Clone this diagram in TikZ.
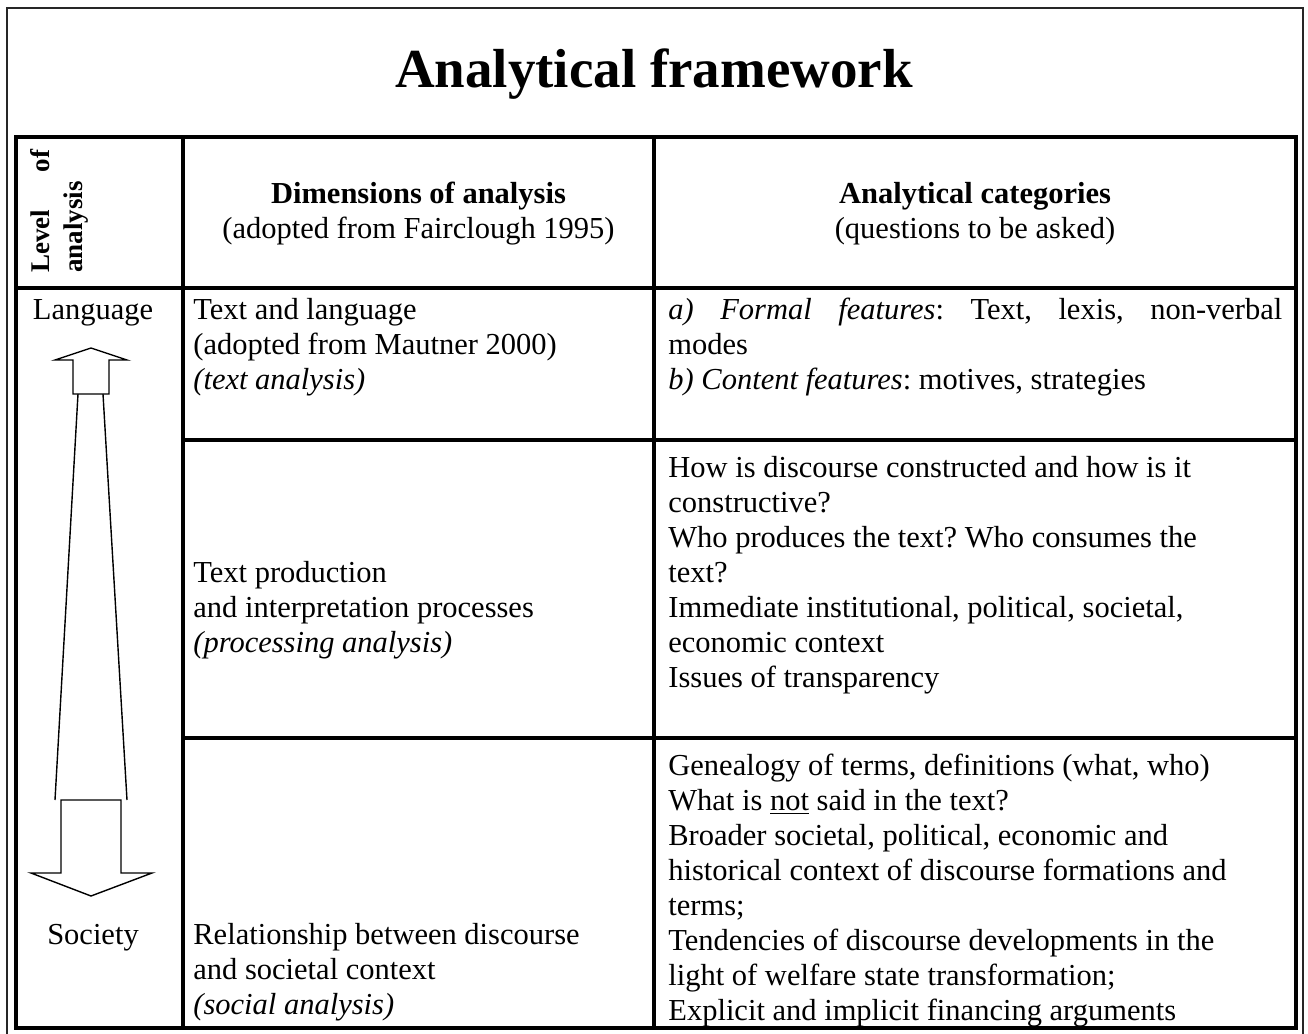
\documentclass[tikz,border=0pt]{standalone}
\usepackage{fontspec}
\setmainfont{Liberation Serif}
\newcommand\bodysize{\fontsize{15.25pt}{17.5pt}\selectfont\frenchspacing}
\begin{document}
\begin{tikzpicture}[x=0.5pt,y=-0.5pt,
  cell/.style={inner sep=0pt, anchor=north west, align=left, font=\bodysize},
  ctr/.style={inner sep=0pt, align=center, font=\bodysize},
  single/.style={inner sep=0pt, anchor=base, font=\bodysize},
  grid/.style={line width=1.7pt},
  frame/.style={line width=0.9pt, draw=black!85},
  arr/.style={line width=0.7pt, line join=miter}
]
\useasboundingbox (0,0) rectangle (1308,1034);
% outer frame (open at the bottom)
\draw[frame] (7,1034) -- (7,8) -- (1303,8) -- (1303,1034);
% title
\node[inner sep=0pt, anchor=base, font=\bfseries\fontsize{27.5pt}{32pt}\selectfont] (title) at (654,87) {Analytical framework};
% table grid
\draw[grid] (16,137) rectangle (1296,1028);
\draw[grid] (183,137) -- (183,1028);
\draw[grid] (654,137) -- (654,1028);
\draw[grid] (16,288) -- (1296,288);
\draw[grid] (183,440) -- (1296,440);
\draw[grid] (183,738) -- (1296,738);
% header row
\node[inner sep=0pt, rotate=90, anchor=north west, align=left, font=\bfseries\fontsize{13.5pt}{16.5pt}\selectfont] (levhead) at (26,273) {\strut\makebox[61.5pt][s]{Level of}\\analysis\strut};
\node[ctr] (dimhead) at (418.5,214) {\strut\textbf{Dimensions of analysis}\\(adopted from Fairclough 1995)\strut};
\node[ctr] (cathead) at (975,214) {\strut\textbf{Analytical categories}\\(questions to be asked)\strut};
% left column
\node[single] (lang) at (93,319) {Language};
\node[single] (soc) at (93,944) {Society};
\draw[arr] (73,394) -- (73,360) -- (55,360) -- (91,348) -- (127,360) -- (109,360) -- (109,394) -- cycle;
\draw[arr] (78,394) -- (55,800);
\draw[arr] (103,394) -- (127,800);
\draw[arr] (61,800) -- (121,800) -- (121,873) -- (152,873) -- (91,896) -- (31,873) -- (61,873) -- cycle;
% row 1
\node[cell] (r1mid) at (193,294.5) {\strut Text and language\\(adopted from Mautner 2000)\\\textit{(text analysis)}};
\node[cell] (r1cat) at (668,294.5) {\strut\makebox[307pt][s]{\textit{a) Formal features}: Text, lexis, non-verbal}\\modes\\\textit{b) Content features}: motives, strategies};
% row 2
\node[cell] (r2mid) at (193,557.5) {\strut Text production\\and interpretation processes\\\textit{(processing analysis)}};
\node[cell] (r2cat) at (668,452.5) {\strut How is discourse constructed and how is it\\constructive?\\Who produces the text? Who consumes the\\text?\\Immediate institutional, political, societal,\\economic context\\Issues of transparency};
% row 3
\node[cell] (r3mid) at (193,919.5) {\strut Relationship between discourse\\and societal context\\\textit{(social analysis)}};
\node[cell] (r3cat) at (668,750.5) {\strut Genealogy of terms, definitions (what, who)\\What is \underline{not} said in the text?\\Broader societal, political, economic and\\historical context of discourse formations and\\terms;\\Tendencies of discourse developments in the\\light of welfare state transformation;\\Explicit and implicit financing arguments};
\end{tikzpicture}
\end{document}
